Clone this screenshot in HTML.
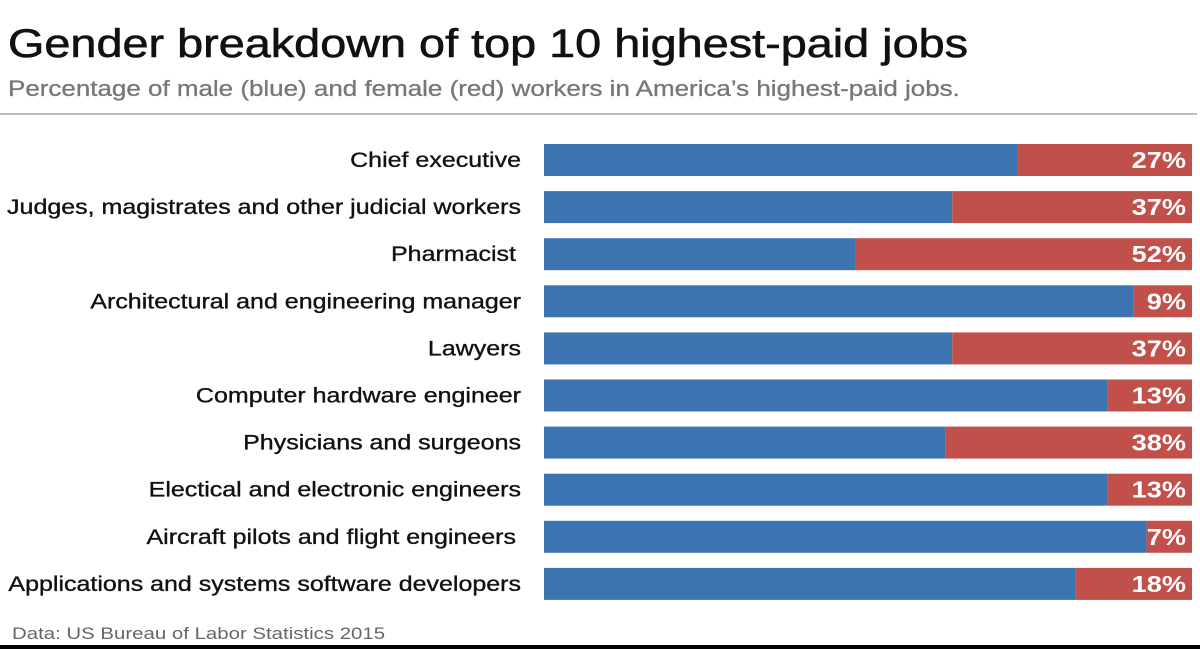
<!DOCTYPE html>
<html><head><meta charset="utf-8"><style>
body{margin:0;background:#fff;width:1200px;height:649px;overflow:hidden;font-family:"Liberation Sans",sans-serif;position:relative}
.sx{position:absolute;transform-origin:0 0;white-space:nowrap}
#title{left:8px;top:22px;font-size:40px;color:#111;transform:scaleX(1.17);-webkit-text-stroke:0.6px #111}
#sub{left:8px;top:76px;font-size:22px;color:#777;transform:scaleX(1.18);-webkit-text-stroke:0.3px #777}
#rule{position:absolute;left:0;top:113px;width:1197px;height:2px;background:#bbb}
#src{left:12px;top:624px;font-size:17px;color:#666;transform:scaleX(1.2)}
#bottom{position:absolute;left:0;top:645px;width:1200px;height:4px;background:#000}
svg text{white-space:pre}
</style></head><body>
<div id="title" class="sx">Gender breakdown of top 10 highest-paid jobs</div>
<div id="sub" class="sx">Percentage of male (blue) and female (red) workers in America’s highest-paid jobs.</div>
<div id="rule"></div>
<svg id="chart" width="1200" height="649" style="position:absolute;left:0;top:0"></svg>
<div id="src" class="sx">Data: US Bureau of Labor Statistics 2015</div>
<div id="bottom"></div>
<script>
const categories=["Chief executive","Judges, magistrates and other judicial workers","Pharmacist ","Architectural and engineering manager","Lawyers","Computer hardware engineer","Physicians and surgeons","Electical and electronic engineers","Aircraft pilots and flight engineers ","Applications and systems software developers"];
const femalePct=[27,37,52,9,37,13,38,13,7,18];
const NS="http://www.w3.org/2000/svg";
const svg=document.getElementById('chart');
const x0=544,xw=648,y0=144,pitch=47.1,bh=32;
const xs=v=>x0+v/100*xw;
const ys=i=>y0+i*pitch;
function mk(t,a){const e=document.createElementNS(NS,t);for(const k in a)e.setAttribute(k,a[k]);svg.appendChild(e);return e;}
categories.forEach((c,i)=>{
  const f=femalePct[i],y=ys(i);
  const lab=mk('text',{x:521,y:y+bh/2+7,'text-anchor':'end','font-size':21,fill:'#111',stroke:'#111','stroke-width':0.35});
  lab.textContent=c.trimEnd();
  
  
  const L=lab.getComputedTextLength();
  lab.setAttribute('textLength',L*1.19);
  lab.setAttribute('lengthAdjust','spacingAndGlyphs');
  if(c.endsWith(' '))lab.setAttribute('x',516);
  const b=mk('rect',{x:x0,y:y,width:xs(100-f)-x0,height:bh,fill:'#3b74b0'});
  
  
  const r=mk('rect',{x:xs(100-f),y:y,width:xs(100)-xs(100-f),height:bh,fill:'#c14f4a'});
  
  
  const v=mk('text',{x:xs(100)-6,y:y+bh/2+8,'text-anchor':'end','font-size':23,'font-weight':'bold',fill:'#fff'});
  v.textContent=f+'%';
  
  
  const W=v.getComputedTextLength();
  v.setAttribute('textLength',W*1.18);
  v.setAttribute('lengthAdjust','spacingAndGlyphs');
});
</script>
</body></html>
